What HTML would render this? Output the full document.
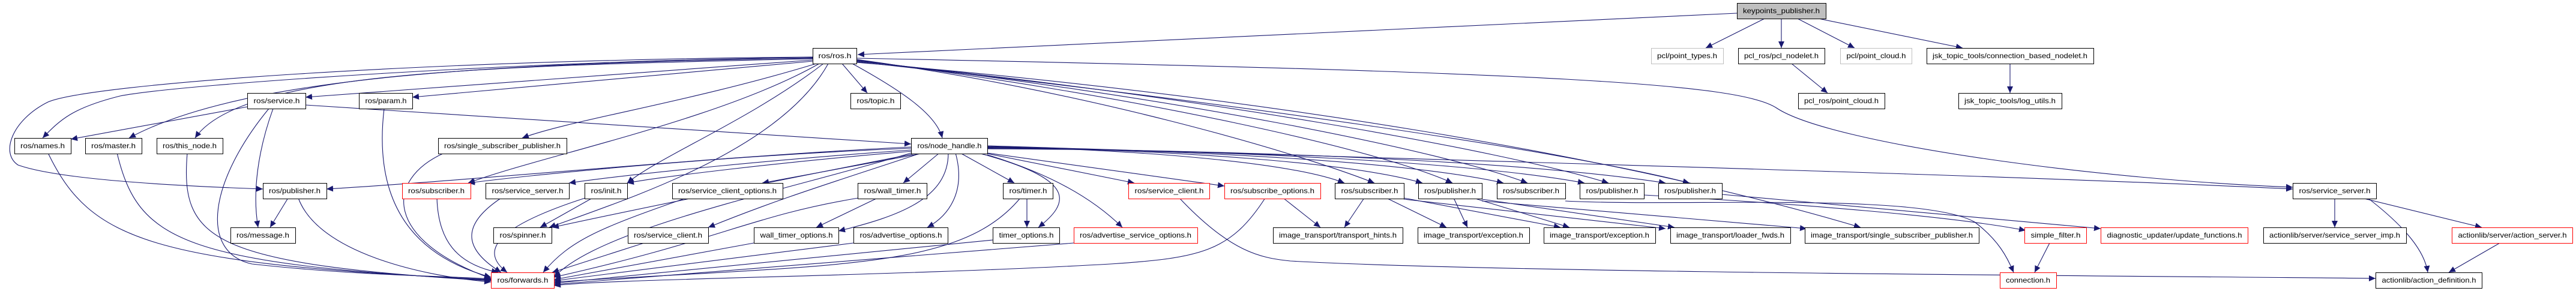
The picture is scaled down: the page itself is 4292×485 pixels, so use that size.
<!DOCTYPE html>
<html><head><meta charset="utf-8"><style>
html,body{margin:0;padding:0;background:#fff;}
svg{display:block;}
text{font-family:"Liberation Sans",Arial,sans-serif;font-size:12px;fill:#000;}
.e{fill:none;stroke:#191970;stroke-width:1.1;marker-end:url(#a);}
.n{fill:#fff;stroke:#000;stroke-width:1;}
.r{fill:#fff;stroke:#ff0000;stroke-width:1;}
.g{fill:#fff;stroke:#bfbfbf;stroke-width:1;}
.k{fill:#bfbfbf;stroke:#000;stroke-width:1;}
</style></head><body>
<svg width="4292" height="485" viewBox="0 0 4292 485" xmlns="http://www.w3.org/2000/svg">
<defs><marker id="a" markerUnits="userSpaceOnUse" markerWidth="12" markerHeight="10" refX="11" refY="5" orient="auto"><path d="M0,0 L11,5 L0,10 z" fill="#191970"/></marker></defs>
<g>
<path class="e" d="M2894,22 L1429,91"/>
<path class="e" d="M2940,31 L2842,80"/>
<path class="e" d="M2968,31 L2968,80"/>
<path class="e" d="M2995,31 L3090,80"/>
<path class="e" d="M3030,31 L3270,80"/>
<path class="e" d="M2985,106 L3045,155"/>
<path class="e" d="M3349,106 L3349,155"/>
<path class="e" d="M1427,97 C2600,120 2900,140 2960,180 C3050,240 3500,300 3820,312"/>
<path class="e" d="M1354,96 C900,100 300,140 200,160 C120,180 100,200 71,230"/>
<path class="e" d="M1354,97 C800,105 400,130 215,230"/>
<path class="e" d="M1354,98 C800,110 400,120 325,230"/>
<path class="e" d="M1354,100 L509,162"/>
<path class="e" d="M1354,102 L687,162"/>
<path class="e" d="M1354,95 C700,100 150,140 80,170 C20,200 0,255 30,275 C100,300 300,310 438,315"/>
<path class="e" d="M1360,106 C1150,170 950,200 870,230"/>
<path class="e" d="M1365,106 C1200,200 900,260 780,305"/>
<path class="e" d="M1372,106 C1250,200 1100,260 1045,305"/>
<path class="e" d="M1380,106 C1300,250 1050,330 915,379"/>
<path class="e" d="M1403,106 L1445,155"/>
<path class="e" d="M1420,106 C1500,150 1560,190 1570,230"/>
<path class="e" d="M1427,99 C1800,150 2150,250 2290,305"/>
<path class="e" d="M1427,100 C1900,160 2300,250 2420,305"/>
<path class="e" d="M1427,101 C1950,160 2400,250 2545,305"/>
<path class="e" d="M1427,102 C2000,160 2500,250 2680,305"/>
<path class="e" d="M1427,103 C2050,170 2600,250 2815,305"/>
<path class="e" d="M1427,104 C2100,160 2700,260 3100,379"/>
<path class="e" d="M1518,245 C1200,260 800,300 544,315"/>
<path class="e" d="M1518,247 C1200,260 900,290 780,305"/>
<path class="e" d="M1518,250 C1300,265 1050,290 948,305"/>
<path class="e" d="M1520,252 C1300,270 1100,295 1045,305"/>
<path class="e" d="M1540,255 L1270,305"/>
<path class="e" d="M1565,255 L1505,305"/>
<path class="e" d="M1600,255 L1690,305"/>
<path class="e" d="M1640,255 L1890,305"/>
<path class="e" d="M1645,255 L2040,310"/>
<path class="e" d="M1645,244 C1900,250 2150,270 2240,305"/>
<path class="e" d="M1645,245 C1950,250 2250,270 2370,305"/>
<path class="e" d="M1645,246 C2000,250 2350,270 2505,305"/>
<path class="e" d="M1645,247 C2050,250 2450,270 2640,305"/>
<path class="e" d="M1645,248 C2100,250 2550,270 2775,305"/>
<path class="e" d="M1645,243 C2500,270 3300,290 3820,315"/>
<path class="e" d="M1530,255 C1300,300 1100,340 920,379"/>
<path class="e" d="M1535,255 C1400,300 1300,330 1180,379"/>
<path class="e" d="M1580,255 C1580,330 1500,360 1397,385"/>
<path class="e" d="M1592,255 C1610,320 1580,360 1545,379"/>
<path class="e" d="M1630,255 C1800,300 1780,340 1730,379"/>
<path class="e" d="M1645,258 C1750,290 1820,330 1870,379"/>
<path class="e" d="M1518,255 C1300,320 1000,380 923,462"/>
<path class="e" d="M412,178 L118,232"/>
<path class="e" d="M448,181 C350,300 330,420 420,440 C600,460 750,460 818,465"/>
<path class="e" d="M455,181 C430,250 420,320 430,379"/>
<path class="e" d="M509,175 L1518,240"/>
<path class="e" d="M640,181 C620,350 700,430 818,462"/>
<path class="e" d="M80,255 C150,400 250,440 818,466"/>
<path class="e" d="M195,255 C230,400 300,440 818,467"/>
<path class="e" d="M312,255 C300,400 350,440 818,468"/>
<path class="e" d="M480,330 L450,379"/>
<path class="e" d="M497,330 C530,420 700,460 818,470"/>
<path class="e" d="M740,255 C640,300 640,400 818,464"/>
<path class="e" d="M728,330 C730,400 760,440 830,454"/>
<path class="e" d="M835,330 C760,380 780,420 835,454"/>
<path class="e" d="M987,330 L900,379"/>
<path class="e" d="M975,330 C820,380 800,420 845,454"/>
<path class="e" d="M1073,405 L920,454"/>
<path class="e" d="M1143,330 C1000,380 950,400 905,454"/>
<path class="e" d="M1462,330 L1360,379"/>
<path class="e" d="M1430,330 C1250,360 1200,400 923,462"/>
<path class="e" d="M1256,405 L923,466"/>
<path class="e" d="M1422,405 L923,468"/>
<path class="e" d="M1711,330 L1711,379"/>
<path class="e" d="M1700,330 C1600,450 1400,440 923,470"/>
<path class="e" d="M1654,400 L923,472"/>
<path class="e" d="M1789,405 L923,474"/>
<path class="e" d="M1965,330 C2050,420 2100,430 2150,435 C2500,455 3600,460 3958,464"/>
<path class="e" d="M2138,330 L2200,379"/>
<path class="e" d="M2108,330 C2050,420 2000,430 1850,440 C1500,460 1000,465 923,476"/>
<path class="e" d="M2273,330 L2240,379"/>
<path class="e" d="M2310,330 L2410,379"/>
<path class="e" d="M2339,330 L2600,379"/>
<path class="e" d="M2339,332 L2775,381"/>
<path class="e" d="M2422,330 L2445,379"/>
<path class="e" d="M2455,330 L2615,379"/>
<path class="e" d="M2469,332 L2790,379"/>
<path class="e" d="M2469,335 L3010,381"/>
<path class="e" d="M2608,335 C2800,345 3200,320 3290,370 C3330,400 3345,430 3355,454"/>
<path class="e" d="M2739,325 C3000,340 3250,360 3375,384"/>
<path class="e" d="M2869,324 L3500,381"/>
<path class="e" d="M3415,405 L3390,454"/>
<path class="e" d="M3890,330 L3890,379"/>
<path class="e" d="M3935,330 L4135,379"/>
<path class="e" d="M3945,330 C4010,380 4040,420 4045,454"/>
<path class="e" d="M4165,405 L4080,454"/>
</g>
<g>
<rect class="k" x="2894.5" y="5.5" width="148" height="26"/><text x="2968" y="22" text-anchor="middle" textLength="128" lengthAdjust="spacingAndGlyphs">keypoints_publisher.h</text>
<rect class="n" x="1354.5" y="80.5" width="73" height="26"/><text x="1391" y="97" text-anchor="middle" textLength="55" lengthAdjust="spacingAndGlyphs">ros/ros.h</text>
<rect class="g" x="2751.5" y="80.5" width="120" height="26"/><text x="2811" y="97" text-anchor="middle" textLength="100" lengthAdjust="spacingAndGlyphs">pcl/point_types.h</text>
<rect class="n" x="2896.5" y="80.5" width="144" height="26"/><text x="2968" y="97" text-anchor="middle" textLength="124" lengthAdjust="spacingAndGlyphs">pcl_ros/pcl_nodelet.h</text>
<rect class="g" x="3066.5" y="80.5" width="119" height="26"/><text x="3126" y="97" text-anchor="middle" textLength="99" lengthAdjust="spacingAndGlyphs">pcl/point_cloud.h</text>
<rect class="n" x="3210.5" y="80.5" width="278" height="26"/><text x="3349" y="97" text-anchor="middle" textLength="258" lengthAdjust="spacingAndGlyphs">jsk_topic_tools/connection_based_nodelet.h</text>
<rect class="n" x="412.5" y="155.5" width="97" height="26"/><text x="461" y="172" text-anchor="middle" textLength="77" lengthAdjust="spacingAndGlyphs">ros/service.h</text>
<rect class="n" x="598.5" y="155.5" width="89" height="26"/><text x="643" y="172" text-anchor="middle" textLength="69" lengthAdjust="spacingAndGlyphs">ros/param.h</text>
<rect class="n" x="1417.5" y="155.5" width="83" height="26"/><text x="1459" y="172" text-anchor="middle" textLength="63" lengthAdjust="spacingAndGlyphs">ros/topic.h</text>
<rect class="n" x="2996.5" y="155.5" width="144" height="26"/><text x="3068" y="172" text-anchor="middle" textLength="124" lengthAdjust="spacingAndGlyphs">pcl_ros/point_cloud.h</text>
<rect class="n" x="3263.5" y="155.5" width="172" height="26"/><text x="3349" y="172" text-anchor="middle" textLength="152" lengthAdjust="spacingAndGlyphs">jsk_topic_tools/log_utils.h</text>
<rect class="n" x="24.5" y="230.5" width="94" height="26"/><text x="71" y="247" text-anchor="middle" textLength="74" lengthAdjust="spacingAndGlyphs">ros/names.h</text>
<rect class="n" x="142.5" y="230.5" width="94" height="26"/><text x="189" y="247" text-anchor="middle" textLength="74" lengthAdjust="spacingAndGlyphs">ros/master.h</text>
<rect class="n" x="261.5" y="230.5" width="110" height="26"/><text x="316" y="247" text-anchor="middle" textLength="90" lengthAdjust="spacingAndGlyphs">ros/this_node.h</text>
<rect class="n" x="730.5" y="230.5" width="214" height="26"/><text x="837" y="247" text-anchor="middle" textLength="194" lengthAdjust="spacingAndGlyphs">ros/single_subscriber_publisher.h</text>
<rect class="n" x="1518.5" y="230.5" width="127" height="26"/><text x="1582" y="247" text-anchor="middle" textLength="107" lengthAdjust="spacingAndGlyphs">ros/node_handle.h</text>
<rect class="n" x="438.5" y="305.5" width="106" height="26"/><text x="491" y="322" text-anchor="middle" textLength="86" lengthAdjust="spacingAndGlyphs">ros/publisher.h</text>
<rect class="r" x="670.5" y="305.5" width="114" height="26"/><text x="727" y="322" text-anchor="middle" textLength="94" lengthAdjust="spacingAndGlyphs">ros/subscriber.h</text>
<rect class="n" x="809.5" y="305.5" width="139" height="26"/><text x="879" y="322" text-anchor="middle" textLength="119" lengthAdjust="spacingAndGlyphs">ros/service_server.h</text>
<rect class="n" x="974.5" y="305.5" width="71" height="26"/><text x="1010" y="322" text-anchor="middle" textLength="51" lengthAdjust="spacingAndGlyphs">ros/init.h</text>
<rect class="n" x="1120.5" y="305.5" width="184" height="26"/><text x="1212" y="322" text-anchor="middle" textLength="164" lengthAdjust="spacingAndGlyphs">ros/service_client_options.h</text>
<rect class="n" x="1429.5" y="305.5" width="115" height="26"/><text x="1487" y="322" text-anchor="middle" textLength="95" lengthAdjust="spacingAndGlyphs">ros/wall_timer.h</text>
<rect class="n" x="1671.5" y="305.5" width="83" height="26"/><text x="1713" y="322" text-anchor="middle" textLength="63" lengthAdjust="spacingAndGlyphs">ros/timer.h</text>
<rect class="r" x="1880.5" y="305.5" width="135" height="26"/><text x="1948" y="322" text-anchor="middle" textLength="115" lengthAdjust="spacingAndGlyphs">ros/service_client.h</text>
<rect class="r" x="2040.5" y="305.5" width="160" height="26"/><text x="2120" y="322" text-anchor="middle" textLength="140" lengthAdjust="spacingAndGlyphs">ros/subscribe_options.h</text>
<rect class="n" x="2224.5" y="305.5" width="115" height="26"/><text x="2282" y="322" text-anchor="middle" textLength="95" lengthAdjust="spacingAndGlyphs">ros/subscriber.h</text>
<rect class="n" x="2363.5" y="305.5" width="106" height="26"/><text x="2416" y="322" text-anchor="middle" textLength="86" lengthAdjust="spacingAndGlyphs">ros/publisher.h</text>
<rect class="n" x="2494.5" y="305.5" width="114" height="26"/><text x="2551" y="322" text-anchor="middle" textLength="94" lengthAdjust="spacingAndGlyphs">ros/subscriber.h</text>
<rect class="n" x="2632.5" y="305.5" width="107" height="26"/><text x="2686" y="322" text-anchor="middle" textLength="87" lengthAdjust="spacingAndGlyphs">ros/publisher.h</text>
<rect class="n" x="2763.5" y="305.5" width="106" height="26"/><text x="2816" y="322" text-anchor="middle" textLength="86" lengthAdjust="spacingAndGlyphs">ros/publisher.h</text>
<rect class="n" x="3820.5" y="305.5" width="139" height="26"/><text x="3890" y="322" text-anchor="middle" textLength="119" lengthAdjust="spacingAndGlyphs">ros/service_server.h</text>
<rect class="n" x="384.5" y="379.5" width="108" height="26"/><text x="438" y="396" text-anchor="middle" textLength="88" lengthAdjust="spacingAndGlyphs">ros/message.h</text>
<rect class="n" x="822.5" y="379.5" width="97" height="26"/><text x="871" y="396" text-anchor="middle" textLength="77" lengthAdjust="spacingAndGlyphs">ros/spinner.h</text>
<rect class="n" x="1046.5" y="379.5" width="134" height="26"/><text x="1113" y="396" text-anchor="middle" textLength="114" lengthAdjust="spacingAndGlyphs">ros/service_client.h</text>
<rect class="n" x="1256.5" y="379.5" width="141" height="26"/><text x="1327" y="396" text-anchor="middle" textLength="121" lengthAdjust="spacingAndGlyphs">wall_timer_options.h</text>
<rect class="n" x="1422.5" y="379.5" width="157" height="26"/><text x="1501" y="396" text-anchor="middle" textLength="137" lengthAdjust="spacingAndGlyphs">ros/advertise_options.h</text>
<rect class="n" x="1654.5" y="379.5" width="111" height="26"/><text x="1710" y="396" text-anchor="middle" textLength="91" lengthAdjust="spacingAndGlyphs">timer_options.h</text>
<rect class="r" x="1789.5" y="379.5" width="206" height="26"/><text x="1892" y="396" text-anchor="middle" textLength="186" lengthAdjust="spacingAndGlyphs">ros/advertise_service_options.h</text>
<rect class="n" x="2121.5" y="379.5" width="216" height="26"/><text x="2229" y="396" text-anchor="middle" textLength="196" lengthAdjust="spacingAndGlyphs">image_transport/transport_hints.h</text>
<rect class="n" x="2362.5" y="379.5" width="186" height="26"/><text x="2455" y="396" text-anchor="middle" textLength="166" lengthAdjust="spacingAndGlyphs">image_transport/exception.h</text>
<rect class="n" x="2572.5" y="379.5" width="186" height="26"/><text x="2665" y="396" text-anchor="middle" textLength="166" lengthAdjust="spacingAndGlyphs">image_transport/exception.h</text>
<rect class="n" x="2783.5" y="379.5" width="200" height="26"/><text x="2883" y="396" text-anchor="middle" textLength="180" lengthAdjust="spacingAndGlyphs">image_transport/loader_fwds.h</text>
<rect class="n" x="3007.5" y="379.5" width="290" height="26"/><text x="3152" y="396" text-anchor="middle" textLength="270" lengthAdjust="spacingAndGlyphs">image_transport/single_subscriber_publisher.h</text>
<rect class="r" x="3373.5" y="379.5" width="103" height="26"/><text x="3425" y="396" text-anchor="middle" textLength="83" lengthAdjust="spacingAndGlyphs">simple_filter.h</text>
<rect class="r" x="3500.5" y="379.5" width="245" height="26"/><text x="3623" y="396" text-anchor="middle" textLength="225" lengthAdjust="spacingAndGlyphs">diagnostic_updater/update_functions.h</text>
<rect class="n" x="3771.5" y="379.5" width="238" height="26"/><text x="3890" y="396" text-anchor="middle" textLength="218" lengthAdjust="spacingAndGlyphs">actionlib/server/service_server_imp.h</text>
<rect class="r" x="4085.5" y="379.5" width="201" height="26"/><text x="4186" y="396" text-anchor="middle" textLength="181" lengthAdjust="spacingAndGlyphs">actionlib/server/action_server.h</text>
<rect class="r" x="818.5" y="454.5" width="105" height="26"/><text x="871" y="471" text-anchor="middle" textLength="85" lengthAdjust="spacingAndGlyphs">ros/forwards.h</text>
<rect class="r" x="3332.5" y="454.5" width="94" height="26"/><text x="3379" y="471" text-anchor="middle" textLength="74" lengthAdjust="spacingAndGlyphs">connection.h</text>
<rect class="n" x="3958.5" y="454.5" width="177" height="26"/><text x="4047" y="471" text-anchor="middle" textLength="157" lengthAdjust="spacingAndGlyphs">actionlib/action_definition.h</text>
</g>
</svg>
</body></html>
